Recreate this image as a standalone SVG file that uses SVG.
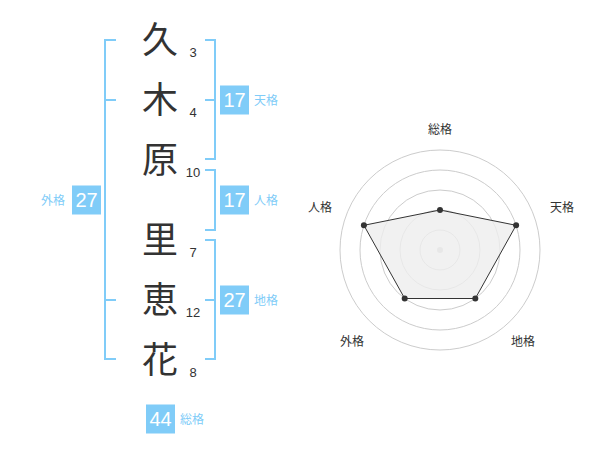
<svg xmlns="http://www.w3.org/2000/svg" width="600" height="470" viewBox="0 0 600 470">
<style>
.k{font-family:"Noto Sans CJK JP","Noto Sans CJK SC",sans-serif;font-size:36px;fill:#333;text-anchor:middle}
.n{font-family:"Liberation Sans",Arial,sans-serif;font-size:13px;fill:#333;text-anchor:middle}
.br{fill:none;stroke:#80ccf8;stroke-width:2}
.bx{fill:#80ccf8}
.bt{font-family:"Liberation Sans",Arial,sans-serif;font-size:20px;fill:#fff;text-anchor:middle}
.lb{font-family:"Noto Sans CJK JP","Noto Sans CJK SC",sans-serif;font-size:12px;fill:#80ccf8}
.rl{font-family:"Noto Sans CJK JP","Noto Sans CJK SC",sans-serif;font-size:12px;fill:#333;text-anchor:middle}
.ring{fill:none;stroke:#ccc;stroke-width:1}
.pt{fill:#333}
</style>
<rect width="600" height="470" fill="#fff"/>
<g id="chars">
<text class="k" x="160" y="53">久</text>
<text class="k" x="160" y="113">木</text>
<text class="k" x="160" y="173">原</text>
<text class="k" x="160" y="253">里</text>
<text class="k" x="160" y="313">恵</text>
<text class="k" x="160" y="373">花</text>
</g>
<g id="strokes">
<text class="n" x="193" y="57">3</text>
<text class="n" x="193" y="117">4</text>
<text class="n" x="193" y="177">10</text>
<text class="n" x="193" y="257">7</text>
<text class="n" x="193" y="317">12</text>
<text class="n" x="193" y="377">8</text>
</g>
<g id="connectors">
<path class="br" d="M116,40 H105 V359 H116 M105,100 H116 M105,300 H116"/>
<path class="br" d="M205,40 H215 V159 H205 M205,100 H215"/>
<path class="br" d="M205,170 H215 V230 H205"/>
<path class="br" d="M205,240 H215 V359 H205 M205,300 H215"/>
</g>
<g id="tenkaku">
<rect class="bx" x="220" y="85.5" width="29" height="29"/>
<text class="bt" x="234.5" y="107">17</text>
<text class="lb" x="254" y="105">天格</text>
</g>
<g id="jinkaku">
<rect class="bx" x="220" y="185.5" width="29" height="29"/>
<text class="bt" x="234.5" y="207">17</text>
<text class="lb" x="254" y="205">人格</text>
</g>
<g id="chikaku">
<rect class="bx" x="220" y="285.5" width="29" height="29"/>
<text class="bt" x="234.5" y="307">27</text>
<text class="lb" x="254" y="305">地格</text>
</g>
<g id="gaikaku">
<rect class="bx" x="72" y="185.5" width="29" height="29"/>
<text class="bt" x="86.5" y="207">27</text>
<text class="lb" x="41" y="205">外格</text>
</g>
<g id="sokaku">
<rect class="bx" x="146" y="404.5" width="29" height="29"/>
<text class="bt" x="160.5" y="426">44</text>
<text class="lb" x="180" y="424">総格</text>
</g>
<g id="radar">
<circle class="ring" cx="440" cy="250" r="20"/>
<circle class="ring" cx="440" cy="250" r="40"/>
<circle class="ring" cx="440" cy="250" r="60"/>
<circle class="ring" cx="440" cy="250" r="80"/>
<circle class="ring" cx="440" cy="250" r="100"/>
<circle cx="440" cy="250" r="3" fill="#ccc"/>
<polygon points="440,210 516.1,225.3 475.3,298.5 404.7,298.5 363.9,225.3" fill="#eee" fill-opacity="0.8" stroke="#333" stroke-width="1"/>
<circle class="pt" cx="440" cy="210" r="3"/>
<circle class="pt" cx="516.1" cy="225.3" r="3"/>
<circle class="pt" cx="475.3" cy="298.5" r="3"/>
<circle class="pt" cx="404.7" cy="298.5" r="3"/>
<circle class="pt" cx="363.9" cy="225.3" r="3"/>
<text class="rl" x="440" y="134">総格</text>
<text class="rl" x="562" y="212">天格</text>
<text class="rl" x="320" y="212">人格</text>
<text class="rl" x="352" y="346">外格</text>
<text class="rl" x="523" y="346">地格</text>
</g>
</svg>
